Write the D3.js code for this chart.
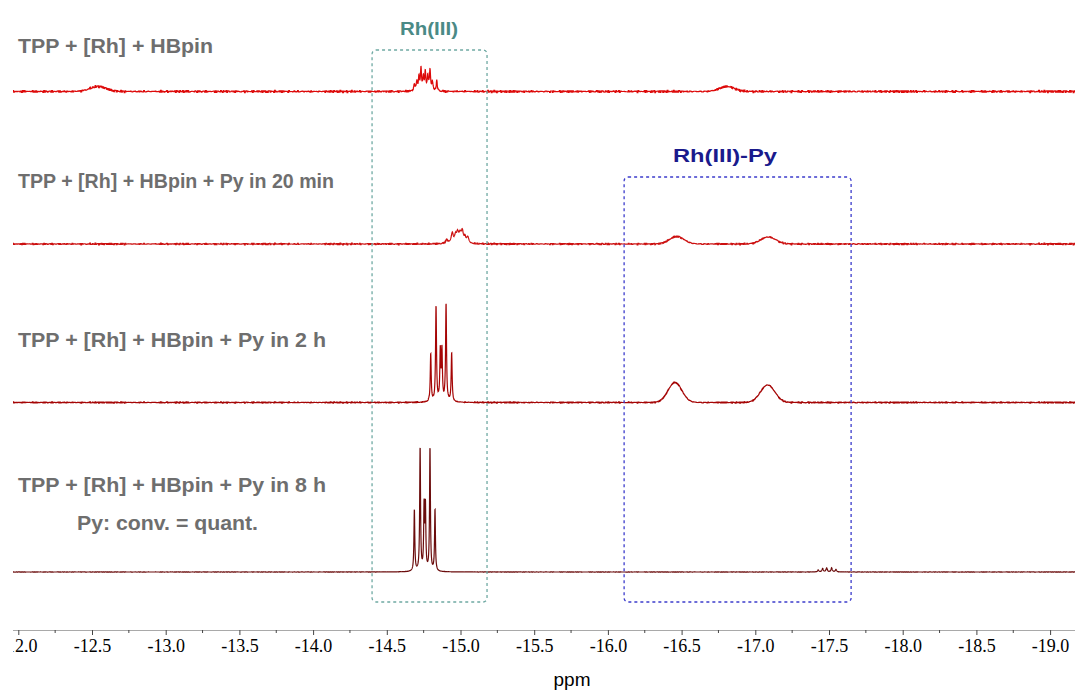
<!DOCTYPE html>
<html lang="en">
  <head>
    <meta charset="UTF-8" />
    <title>Hydride region NMR</title>
    <script src="https://d3js.org/d3.v7.min.js"></script>
    <style>
      body {
        margin: 0;
        background: #fff;
      }
      .label {
        font-family: "Liberation Sans", Arial, sans-serif;
        font-weight: bold;
        font-size: 20px;
        fill: #6e6e6e;
      }
      .serif {
        font-family: "Times New Roman", "Liberation Serif", Times, serif;
      }
    </style>
  </head>
  <body>
    <svg id="chart" width="1078" height="691"></svg>
    <script>
      // axis ticks (ppm)
      const tickValues = [-12, -12.5, -13, -13.5, -14, -14.5, -15, -15.5, -16, -16.5, -17, -17.5, -18, -18.5, -19];

      // spectrum labels
      const spectrumNames = [
        "TPP + [Rh] + HBpin",
        "TPP + [Rh] + HBpin + Py in 20 min",
        "TPP + [Rh] + HBpin + Py in 2 h",
        "TPP + [Rh] + HBpin + Py in 8 h",
      ];

      // peaks: [ppm, height, width (ppm)]
      const peaks1 = [
        [-12.541, 5, 0.13],
        [-14.687, 7, 0.009], [-14.703, 9, 0.009], [-14.718, 14, 0.009],
        [-14.732, 22, 0.009], [-14.748, 13, 0.009], [-14.761, 18, 0.009],
        [-14.778, 15, 0.009], [-14.793, 21, 0.009], [-14.809, 9, 0.009],
        [-14.839, 10, 0.009],
        [-16.808, 5, 0.12],
      ];
      const peaks2 = [
        [-14.906, 4, 0.017], [-14.944, 10, 0.017], [-14.967, 7, 0.017],
        [-14.981, 9, 0.017], [-14.997, 8, 0.017], [-15.012, 11, 0.017],
        [-15.03, 5, 0.017], [-15.049, 6, 0.017],
        [-16.467, 7.5, 0.115],
        [-17.088, 7, 0.12],
      ];
      const peaks3 = [
        [-14.798, 48, 0.0075], [-14.834, 96, 0.0075], [-14.863, 50, 0.0075],
        [-14.874, 50, 0.0075], [-14.902, 98, 0.0075], [-14.94, 49, 0.0075],
        [-16.455, 20, 0.11],
        [-17.084, 17.5, 0.115],
      ];
      const peaks4 = [
        [-14.687, 62, 0.0068], [-14.726, 124, 0.0068], [-14.753, 63, 0.0068],
        [-14.762, 63, 0.0068], [-14.793, 124, 0.0068], [-14.827, 62, 0.0068],
        [-17.427, 2, 0.01], [-17.457, 3.5, 0.01], [-17.484, 4, 0.01],
        [-17.518, 4, 0.01], [-17.547, 2.5, 0.01],
      ];
      const allPeaks = [peaks1, peaks2, peaks3, peaks4];

      // baseline noise texture (typed, repeated along the trace)
      const noiseA = [0.4, -0.7, 0.9, -0.2, 0.1, -1, 0.6, 0.3, -0.5, 0.8, -0.9, 0.2, -0.3, 0.7, -0.6, 1, -0.1, -0.8, 0.5, 0, -0.4, 0.9, -0.7, 0.3, 0.6, -1, 0.2, -0.2, 0.8, -0.5, 0.1, -0.9, 0.7, 0.4, -0.3, 0.5, -0.6];
      const noiseB = [-0.5, 0.3, 0.8, -0.9, 0.1, 0.6, -0.2, -0.7, 0.9, -0.4, 0.2, 0.5, -1, 0.7, -0.1, 0.4, -0.6, 0.9, -0.3, 0, 0.6, -0.8, 0.3, -0.5, 1, -0.2, 0.4, -0.9, 0.1];
      const noiseLevel = [1.0, 0.75, 0.6, 0.12];

      // boxes: ppm ranges
      const boxNames = ["Rh(III)", "Rh(III)-Py"];
      const boxRanges = [[-14.4, -15.18], [-16.11, -17.65]];

      const svg = d3.select("#chart");
      const x = d3.scaleLinear().domain([-12, -19]).range([18.3, 1050.1]);
      const y = d3.scaleLinear().domain([0, 100]).range([0, -100]);
      const baselines = [91.5, 244, 402.5, 572];
      const colors = ["#dd0a0a", "#cc1010", "#a50505", "#6b0c0c"];

      const left = 13, right = 1075;

      svg.append("defs").append("clipPath").attr("id", "clip")
        .append("rect").attr("x", left).attr("y", 0)
        .attr("width", right - left).attr("height", 691);

      function shape(p, v) {
        const [c, h, w] = p;
        const d = v - c;
        if (w > 0.05) {
          const s = w / 2.3548;
          return h * Math.exp(-(d * d) / (2 * s * s));
        }
        const g = w / 2;
        return (h * g * g) / (d * d + g * g);
      }

      const grid = d3.range(x.invert(left - 2), x.invert(right + 2), -0.001);

      allPeaks.forEach((pk, k) => {
        const pts = grid.map((v, i) => {
          let s = 0;
          pk.forEach((p) => (s += shape(p, v)));
          const j = Math.floor(i / 6);
          s += noiseLevel[k] * (noiseA[j % noiseA.length] + noiseB[j % noiseB.length]) * 0.6;
          return [v, s];
        });
        const line = d3.line()
          .x((d) => x(d[0]))
          .y((d) => baselines[k] + y(d[1]));
        svg.append("path")
          .attr("clip-path", "url(#clip)")
          .attr("d", line(pts))
          .attr("fill", "none")
          .attr("stroke", colors[k])
          .attr("stroke-width", 1.2);
      });

      // labels
      const labelPos = [[18, 53], [18, 188], [18, 347], [18, 492]];
      const labelWidth = [195, 316, 308, 308];
      spectrumNames.forEach((t, i) => {
        svg.append("text").attr("class", "label")
          .attr("x", labelPos[i][0]).attr("y", labelPos[i][1])
          .attr("textLength", labelWidth[i])
          .attr("lengthAdjust", "spacingAndGlyphs")
          .text(t);
      });
      svg.append("text").attr("class", "label")
        .attr("x", 77).attr("y", 530)
        .attr("textLength", 181)
        .attr("lengthAdjust", "spacingAndGlyphs")
        .text("Py: conv. = quant.");

      // dashed boxes
      const boxTop = [50, 177];
      const boxColor = ["#6fa9a3", "#3c3ccc"];
      const boxTextColor = ["#4a8a86", "#1a1a8c"];
      const boxTextX = [429, 725];
      const boxTextW = [58, 104];
      boxRanges.forEach((r, i) => {
        const x0 = x(r[0]), x1 = x(r[1]);
        svg.append("rect")
          .attr("x", x0).attr("y", boxTop[i])
          .attr("width", x1 - x0).attr("height", 602 - boxTop[i])
          .attr("rx", 4)
          .attr("fill", "none")
          .attr("stroke", boxColor[i])
          .attr("stroke-width", 1.3)
          .attr("stroke-dasharray", "3,3");
        svg.append("text").attr("class", "label")
          .attr("x", boxTextX[i] - boxTextW[i] / 2).attr("y", boxTop[i] - 15)
          .attr("textLength", boxTextW[i])
          .attr("lengthAdjust", "spacingAndGlyphs")
          .style("font-size", "19px")
          .style("fill", boxTextColor[i])
          .text(boxNames[i]);
      });

      // axis
      const axisG = svg.append("g")
        .attr("transform", "translate(0,630)")
        .attr("clip-path", "url(#clip)");
      axisG.call(
        d3.axisBottom(x)
          .tickValues(tickValues)
          .tickFormat((d) => d.toFixed(1))
          .tickSize(5)
          .tickPadding(4)
      );
      axisG.attr("font-family", null).attr("font-size", null);
      axisG.select(".domain").remove();
      axisG.selectAll(".tick line").attr("stroke", "#444");
      axisG.selectAll(".tick text")
        .attr("class", "serif")
        .attr("font-size", 18)
        .attr("fill", "#000");
      axisG.append("line")
        .attr("x1", left).attr("x2", right)
        .attr("stroke", "#555").attr("stroke-width", 1);
      const minor = d3.range(-12.25, -19.2, -0.5);
      axisG.selectAll(".minor").data(minor).enter().append("line")
        .attr("x1", (d) => x(d)).attr("x2", (d) => x(d))
        .attr("y1", 0).attr("y2", 3)
        .attr("stroke", "#444");

      svg.append("text")
        .attr("x", 572).attr("y", 686)
        .attr("text-anchor", "middle")
        .attr("font-family", "Liberation Sans, Arial, sans-serif")
        .attr("font-size", 19)
        .text("ppm");
    </script>
  </body>
</html>
